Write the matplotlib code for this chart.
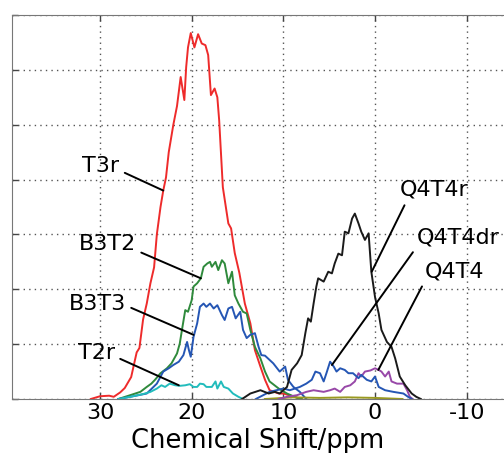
import numpy as np
import matplotlib
matplotlib.use("Agg")
import matplotlib.pyplot as plt

# chemical shift (ppm) / intensity pairs
t3r_x = [31.0, 30.0, 29.0, 28.5, 27.8, 27.3, 26.6, 26.0, 25.7, 25.3, 24.9, 24.5, 24.1, 23.8,
         23.4, 23.1, 22.8, 22.5, 22.0, 21.6, 21.2, 20.8, 20.6, 20.4, 20.1, 19.7, 19.3, 18.9,
         18.5, 18.2, 17.9, 17.5, 17.2, 17.0, 16.6, 16.0, 15.7, 15.3, 14.8, 14.2, 13.6, 13.1,
         12.5, 12.0, 11.5, 10.5, 10.0, 9.0, 8.4, 8.0]
t3r_y = [0.0, 0.05, 0.06, 0.04, 0.12, 0.2, 0.4, 0.85, 0.93, 1.45, 1.74, 2.11, 2.4, 3.0,
         3.5, 3.8, 4.04, 4.5, 5.0, 5.34, 5.87, 5.45, 6.05, 6.41, 6.67, 6.41, 6.65, 6.48,
         6.45, 6.27, 5.54, 5.66, 5.5, 5.08, 3.86, 3.2, 3.11, 2.66, 2.3, 1.74, 1.38, 0.89,
         0.59, 0.35, 0.16, 0.1, 0.1, 0.05, 0.02, 0.0]

b3t2_x = [28.0, 26.7, 25.6, 24.9, 24.4, 24.0, 23.4, 22.7, 22.2, 21.6, 21.3, 21.0, 20.7, 20.4,
          20.0, 19.8, 19.4, 19.0, 18.7, 18.3, 18.0, 17.8, 17.4, 17.1, 16.7, 16.4, 16.0, 15.6,
          15.3, 14.9, 14.4, 14.0, 13.6, 13.1, 12.5, 12.0, 11.5, 10.5, 9.6, 8.5, 8.0]
b3t2_y = [0.0, 0.07, 0.13, 0.22, 0.28, 0.35, 0.47, 0.56, 0.65, 0.83, 1.01, 1.32, 1.62, 1.59,
          1.8, 2.05, 2.11, 2.2, 2.41, 2.47, 2.5, 2.41, 2.5, 2.35, 2.53, 2.47, 2.11, 2.32,
          1.89, 1.74, 1.59, 1.56, 1.26, 0.95, 0.74, 0.5, 0.32, 0.19, 0.1, 0.02, 0.0]

b3t3_x = [28.0, 26.7, 24.9, 23.8, 23.1, 22.5, 22.0, 21.4, 20.9, 20.5, 20.3, 20.1, 19.8, 19.4,
          19.1, 18.7, 18.4, 18.0, 17.6, 17.2, 16.7, 16.4, 16.0, 15.6, 15.2, 14.7, 14.4, 14.0,
          13.6, 13.1, 12.7, 12.4, 12.0, 11.1, 10.4, 9.8, 9.5, 8.9, 8.2, 7.5]
b3t3_y = [0.0, 0.04, 0.1, 0.28, 0.5, 0.56, 0.62, 0.68, 0.8, 1.04, 0.89, 0.77, 1.13, 1.38,
          1.68, 1.74, 1.68, 1.74, 1.65, 1.71, 1.53, 1.44, 1.65, 1.68, 1.47, 1.59, 1.26, 1.11,
          1.17, 1.2, 0.95, 0.8, 0.79, 0.65, 0.5, 0.59, 0.35, 0.22, 0.13, 0.0]

t2r_x = [28.0, 26.7, 25.3, 24.5, 23.8, 23.3, 22.9, 22.4, 21.8, 21.3, 20.7, 20.2, 19.8, 19.4,
         19.1, 18.7, 18.4, 17.8, 17.4, 17.2, 16.8, 16.5, 16.0, 15.5, 14.9, 14.4]
t2r_y = [0.0, 0.04, 0.09, 0.13, 0.19, 0.25, 0.22, 0.28, 0.25, 0.24, 0.25, 0.27, 0.22, 0.22,
         0.28, 0.27, 0.22, 0.22, 0.32, 0.19, 0.32, 0.22, 0.19, 0.1, 0.04, 0.0]

q4t4r_x = [14.5, 13.6, 12.5, 11.6, 10.9, 10.4, 9.6, 9.1, 8.5, 8.0, 7.6, 7.3, 7.0, 6.7,
           6.4, 6.2, 5.6, 5.1, 4.7, 4.4, 4.0, 3.6, 3.3, 2.9, 2.5, 2.2, 1.8, 1.5, 1.1, 0.7,
           0.4, 0.0, -0.4, -0.7, -1.3, -1.8, -2.2, -2.7, -3.3, -4.0, -4.5, -5.0]
q4t4r_y = [0.0, 0.1, 0.16, 0.1, 0.13, 0.1, 0.22, 0.53, 0.65, 0.8, 1.2, 1.47, 1.41, 1.74,
           2.05, 2.2, 2.14, 2.32, 2.29, 2.47, 2.65, 2.62, 3.05, 3.02, 3.29, 3.38, 3.2, 3.05,
           2.9, 3.02, 2.32, 1.86, 1.56, 1.26, 1.04, 0.95, 0.74, 0.41, 0.25, 0.1, 0.04, 0.0]

q4t4dr_x = [13.0, 11.5, 10.0, 9.3, 8.2, 7.5, 6.9, 6.5, 6.0, 5.6, 5.3, 4.9, 4.5, 4.2, 3.8,
            3.3, 2.9, 2.4, 1.8, 1.5, 0.9, 0.4, 0.0, -0.4, -1.1, -2.0, -3.1, -3.6, -4.0]
q4t4dr_y = [0.0, 0.13, 0.19, 0.16, 0.22, 0.28, 0.35, 0.5, 0.47, 0.32, 0.47, 0.68, 0.59,
            0.5, 0.56, 0.53, 0.47, 0.47, 0.38, 0.44, 0.35, 0.32, 0.41, 0.22, 0.16, 0.13,
            0.1, 0.04, 0.0]

q4t4_x = [10.5, 9.6, 8.5, 7.5, 6.7, 5.6, 4.9, 4.4, 3.8, 3.3, 2.7, 2.2, 1.8, 1.5, 1.1, 0.5,
          0.0, -0.4, -0.7, -1.1, -1.5, -1.8, -2.4, -3.1, -3.5, -3.8, -4.1]
q4t4_y = [0.0, 0.04, 0.07, 0.13, 0.16, 0.13, 0.16, 0.19, 0.13, 0.22, 0.25, 0.32, 0.47,
          0.41, 0.5, 0.52, 0.56, 0.53, 0.5, 0.41, 0.5, 0.32, 0.28, 0.28, 0.16, 0.04, 0.0]

base_x = [12.0, 9.0, 6.0, 3.0, 0.0, -3.0]
base_y = [0.0, 0.03, 0.02, 0.03, 0.02, 0.0]

series = [
    (t3r_x, t3r_y, "#ee2b2b"),
    (b3t2_x, b3t2_y, "#2f8a3c"),
    (b3t3_x, b3t3_y, "#2556b4"),
    (t2r_x, t2r_y, "#22bcbc"),
    (base_x, base_y, "#9a9a20"),
    (q4t4_x, q4t4_y, "#9848a8"),
    (q4t4dr_x, q4t4dr_y, "#2556b4"),
    (q4t4r_x, q4t4r_y, "#1a1a1a"),
]

# label, text position, point on curve, relpos of line start
labels = [
    ("T3r", (29.9, 4.24), (23.1, 3.8), (1.0, 0.3)),
    ("B3T2", (29.2, 2.82), (19.0, 2.2), (1.0, 0.2)),
    ("B3T3", (30.3, 1.74), (19.8, 1.17), (1.0, 0.4)),
    ("T2r", (30.4, 0.83), (21.4, 0.25), (1.0, 0.35)),
    ("Q4T4r", (-6.5, 3.81), (0.36, 2.32), (0.1, 0.0)),
    ("Q4T4dr", (-9.05, 2.95), (4.7, 0.62), (0.0, 0.0)),
    ("Q4T4", (-8.67, 2.33), (-0.36, 0.53), (0.0, 0.0)),
]

fig = plt.figure(figsize=(5.04, 4.53), dpi=100)
x0, x1 = 39.6, -17.0
ppx = 9.167  # px per ppm
ax_w = (x0 - x1) * ppx
ax = fig.add_axes([12 / 504, 54 / 453, ax_w / 504, 384 / 453])

for xs, ys, c in series:
    ax.plot(xs, ys, color=c, lw=1.4)

for text, txy, pxy, rp in labels:
    ax.annotate(text, xy=pxy, xytext=txy, ha="center", va="center", fontsize=16,
                arrowprops=dict(arrowstyle="-", color="black", lw=1.4, relpos=rp,
                                shrinkA=2, shrinkB=0))

ax.set_xlim(x0, x1)
ax.set_ylim(0, 7)
ax.set_xticks([30, 20, 10, 0, -10])
ax.set_xticklabels(["30", "20", "10", "0", "-10"])
ax.set_yticks(range(8))
ax.set_yticklabels([])
ax.tick_params(direction="in", length=4, width=1, top=True, right=False,
               labelsize=16, color="#444444", pad=3)
ax.grid(True, linestyle=(0, (1, 3)), color="#555555", lw=1)
for s in ax.spines.values():
    s.set_color("#777777")
ax.set_xlabel("Chemical Shift/ppm", fontsize=18.5)
ax.xaxis.set_label_coords((258 - 12) / ax_w, -0.075)

fig.savefig("out.png", dpi=100)
